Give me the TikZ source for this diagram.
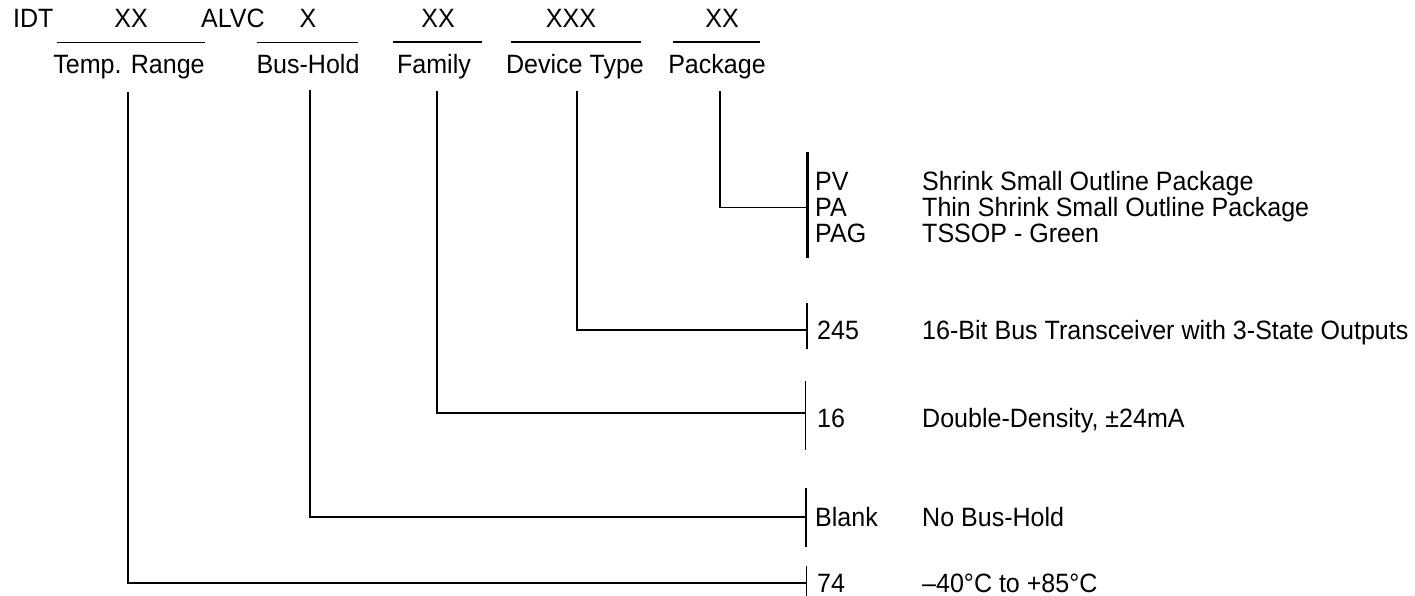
\documentclass[tikz,border=0pt]{standalone}
\usepackage{fontspec}
\setmainfont{Liberation Sans}[FakeStretch=0.945]
\begin{document}
\begin{tikzpicture}[x=1pt,y=-1pt,
  lt/.style={inner sep=0pt, font=\fontsize{26.5}{28}\selectfont, anchor=base west},
  ct/.style={inner sep=0pt, font=\fontsize{26.5}{28}\selectfont, anchor=base},
  thin/.style={line width=1.2pt},
  thick/.style={line width=2.2pt}]
\useasboundingbox (0,0) rectangle (1415,596);
% top code row
\node[lt] (idt) at (13,28) {IDT};
\node[ct] (c1) at (131,28) {XX};
\node[lt] (alvc) at (201,28) {ALVC};
\node[ct] (c2) at (308,28) {X};
\node[ct] (c3) at (438,28) {XX};
\node[ct] (c4) at (571,28) {XXX};
\node[ct] (c5) at (722,28) {XX};
% underlines
\coordinate (u1a) at (57,42.5); \coordinate (u1b) at (205,42.5);
\coordinate (u2a) at (257,42.5); \coordinate (u2b) at (358,42.5);
\coordinate (u3a) at (393,42); \coordinate (u3b) at (482,42);
\coordinate (u4a) at (511,42); \coordinate (u4b) at (641,42);
\coordinate (u5a) at (673,42); \coordinate (u5b) at (760,42);
\draw[thin] (u1a) -- (u1b);
\draw[thin] (u2a) -- (u2b);
\draw[thin] (u3a) -- (u3b);
\draw[thick] (u4a) -- (u4b);
\draw[thin] (u5a) -- (u5b);
% labels
\node[ct] (l1) at (129,74) {Temp. Range};
\node[ct] (l2) at (308,74) {Bus-Hold};
\node[ct] (l3) at (434,74) {Family};
\node[ct] (l4) at (575,74) {Device Type};
\node[ct] (l5) at (717,74) {Package};
% vertical start points
\coordinate (v1) at (128,92);
\coordinate (v2) at (310,90);
\coordinate (v3) at (437,91);
\coordinate (v4) at (577,91);
\coordinate (v5) at (720,91);
% brackets
\coordinate (b5t) at (807.5,152); \coordinate (b5b) at (807.5,258);
\coordinate (b4t) at (807,303); \coordinate (b4b) at (807,349);
\coordinate (b3t) at (805.5,381); \coordinate (b3b) at (805.5,450);
\coordinate (b2t) at (806,488); \coordinate (b2b) at (806,547);
\coordinate (b1t) at (806.5,566); \coordinate (b1b) at (806.5,596);
\draw[thick] (b5t) -- (b5b);
\draw[thin] (b4t) -- (b4b);
\draw[thin] (b3t) -- (b3b);
\draw[thick] (b2t) -- (b2b);
\draw[thin] (b1t) -- (b1b);
% connectors
\draw[thin] (v5) |- (807.5,207.5);
\draw[thick] (v4) |- (807,330);
\draw[thick] (v3) |- (805.5,413);
\draw[thin] (v2) |- (806,517);
\draw[thin] (v1) |- (806.5,583);
% package rows
\node[lt] (pv) at (815,190.5) {PV};
\node[lt] (pvd) at (922,190.5) {Shrink Small Outline Package};
\node[lt] (pa) at (815,216.5) {PA};
\node[lt] (pad) at (922,216.5) {Thin Shrink Small Outline Package};
\node[lt] (pag) at (815,242) {PAG};
\node[lt] (pagd) at (922,242) {TSSOP - Green};
% device
\node[lt] (d245) at (817,339.5) {245};
\node[lt] (d245d) at (922,339.5) {16-Bit Bus Transceiver with 3-State Outputs};
% family
\node[lt] (f16) at (817,427.5) {16};
\node[lt] (f16d) at (922,427.5) {Double-Density, \textpm24mA};
% bus hold
\node[lt] (bh) at (815,526.5) {Blank};
\node[lt] (bhd) at (922,526.5) {No Bus-Hold};
% temp
\node[lt] (t74) at (817,592.5) {74};
\node[lt] (t74d) at (922,592.5) {\textendash40\textdegree C to +85\textdegree C};
\end{tikzpicture}
\end{document}
